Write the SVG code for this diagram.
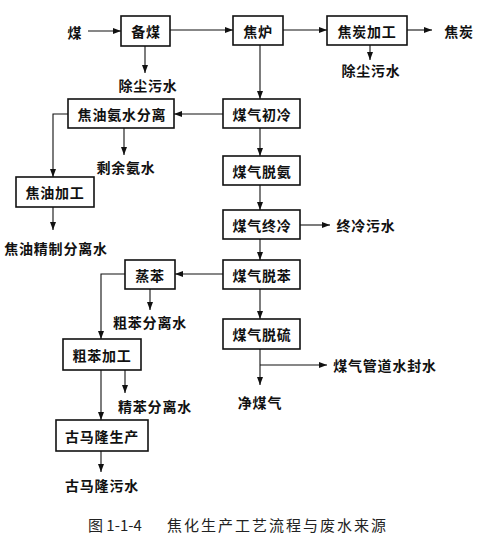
<svg xmlns="http://www.w3.org/2000/svg" width="479" height="538" viewBox="0 0 479 538">
<style>
.box{fill:#fff;stroke:#111;stroke-width:1.6}
.ln{fill:none;stroke:#111;stroke-width:1.1}
.t{font-family:"Noto Sans CJK SC","Noto Sans",sans-serif;font-size:14px;font-weight:bold;fill:#111;text-anchor:middle;dominant-baseline:central;letter-spacing:0.8px}
.cap{font-family:"Noto Sans CJK SC","Liberation Serif",serif;font-size:15px;fill:#222;dominant-baseline:central}
</style>
<defs>
<marker id="ah" markerUnits="userSpaceOnUse" markerWidth="8" markerHeight="6" refX="8" refY="3" orient="auto">
<path d="M0,0 L8,3 L0,6 z" fill="#111"/>
</marker>
</defs>
<rect width="479" height="538" fill="#fff"/>
<g id="connectors">
<path class="ln" d="M88,31 H121" marker-end="url(#ah)"/>
<path class="ln" d="M170,30 H233" marker-end="url(#ah)"/>
<path class="ln" d="M283,30 H327" marker-end="url(#ah)"/>
<path class="ln" d="M407,30 H432" marker-end="url(#ah)"/>
<path class="ln" d="M145,46 V73" marker-end="url(#ah)"/>
<path class="ln" d="M370,45 V60" marker-end="url(#ah)"/>
<path class="ln" d="M260,45 V99" marker-end="url(#ah)"/>
<path class="ln" d="M223,114 H174" marker-end="url(#ah)"/>
<path class="ln" d="M68,114 H53 V177" marker-end="url(#ah)"/>
<path class="ln" d="M124,128 V155" marker-end="url(#ah)"/>
<path class="ln" d="M53,207 V230" marker-end="url(#ah)"/>
<path class="ln" d="M260,128 V156" marker-end="url(#ah)"/>
<path class="ln" d="M260,185 V210" marker-end="url(#ah)"/>
<path class="ln" d="M300,225 H330" marker-end="url(#ah)"/>
<path class="ln" d="M260,239 V260" marker-end="url(#ah)"/>
<path class="ln" d="M223,274 H175" marker-end="url(#ah)"/>
<path class="ln" d="M125,274 H101 V339" marker-end="url(#ah)"/>
<path class="ln" d="M150,289 V310" marker-end="url(#ah)"/>
<path class="ln" d="M260,289 V319" marker-end="url(#ah)"/>
<path class="ln" d="M260,349 V385" marker-end="url(#ah)"/>
<path class="ln" d="M260,365 H327" marker-end="url(#ah)"/>
<path class="ln" d="M101,370 V420" marker-end="url(#ah)"/>
<path class="ln" d="M125,370 V393" marker-end="url(#ah)"/>
<path class="ln" d="M101,451 V472" marker-end="url(#ah)"/>
</g>
<g id="n-beimei"><rect class="box" x="121" y="16" width="49" height="30"/><text class="t" x="146" y="31">备煤</text></g>
<g id="n-jiaolu"><rect class="box" x="233" y="16" width="50" height="29"/><text class="t" x="258" y="30.5">焦炉</text></g>
<g id="n-jiaotanjiagong"><rect class="box" x="327" y="16" width="80" height="29"/><text class="t" x="367" y="30.5">焦炭加工</text></g>
<g id="n-chuleng"><rect class="box" x="223" y="99" width="77" height="29"/><text class="t" x="262" y="114">煤气初冷</text></g>
<g id="n-fenli"><rect class="box" x="68" y="99" width="106" height="29"/><text class="t" x="122" y="114">焦油氨水分离</text></g>
<g id="n-jiaoyoujiagong"><rect class="box" x="16" y="177" width="78" height="30"/><text class="t" x="55" y="192">焦油加工</text></g>
<g id="n-tuoan"><rect class="box" x="223" y="156" width="77" height="29"/><text class="t" x="262" y="170.5">煤气脱氨</text></g>
<g id="n-zhongleng"><rect class="box" x="223" y="210" width="77" height="29"/><text class="t" x="262" y="224.5">煤气终冷</text></g>
<g id="n-tuoben"><rect class="box" x="223" y="260" width="77" height="29"/><text class="t" x="262" y="274.5">煤气脱苯</text></g>
<g id="n-zhengben"><rect class="box" x="125" y="260" width="50" height="29"/><text class="t" x="150" y="274.5">蒸苯</text></g>
<g id="n-tuoliu"><rect class="box" x="223" y="319" width="77" height="30"/><text class="t" x="262" y="334">煤气脱硫</text></g>
<g id="n-cubenjiagong"><rect class="box" x="63" y="339" width="78" height="31"/><text class="t" x="102" y="354.5">粗苯加工</text></g>
<g id="n-gumalong"><rect class="box" x="56" y="420" width="92" height="31"/><text class="t" x="102" y="435.5">古马隆生产</text></g>
<g id="labels">
<text class="t" x="75" y="32">煤</text>
<text class="t" x="459" y="31">焦炭</text>
<text class="t" x="148" y="85">除尘污水</text>
<text class="t" x="371" y="70">除尘污水</text>
<text class="t" x="126" y="167">剩余氨水</text>
<text class="t" x="56" y="248">焦油精制分离水</text>
<text class="t" x="366" y="225">终冷污水</text>
<text class="t" x="150" y="322">粗苯分离水</text>
<text class="t" x="385" y="365">煤气管道水封水</text>
<text class="t" x="155" y="406">精苯分离水</text>
<text class="t" x="260" y="402">净煤气</text>
<text class="t" x="102" y="485">古马隆污水</text>
</g>
<text class="cap" y="524"><tspan x="88">图 1-1-4</tspan><tspan x="167" letter-spacing="2px">焦化生产工艺流程与废水来源</tspan></text>
</svg>
